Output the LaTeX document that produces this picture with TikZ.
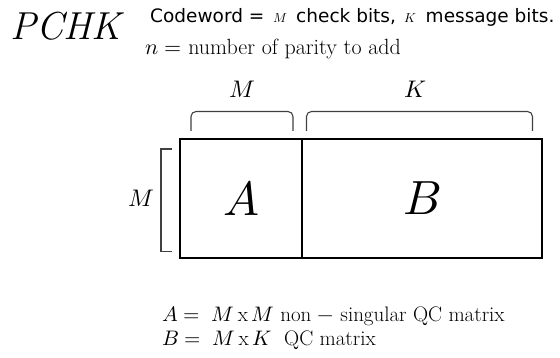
\documentclass[tikz,border=0pt]{standalone}
\usepackage{fontspec}
\usepackage{unicode-math}
\setmathfont{Latin Modern Math}
\newfontfamily\sansf{DejaVu Sans}
\begin{document}
\begin{tikzpicture}[x=1pt,y=-1pt,
  cell/.style={draw=black,line width=1.8pt,inner sep=0pt,outer sep=0pt,minimum height=119pt,font=\fontsize{48}{48}\selectfont},
  brace/.style={draw=black!75,line width=1.1pt,rounded corners=5pt},
  dimlab/.style={font=\fontsize{24}{24}\selectfont,inner sep=0pt},
  lbl/.style={anchor=base west,inner sep=0pt}]
\useasboundingbox (0,0) rectangle (560,358);
\node[lbl,font=\fontsize{39}{40}\selectfont] (title) at (10,40) {\itshape PCHK};
\node[lbl,font=\sansf\fontsize{18.5}{19}\selectfont] (code) at (150,23) {Codeword = \,$\scriptstyle M$\, check bits, \,$\scriptstyle K$\, message bits.};
\node[lbl,font=\fontsize{22}{24}\selectfont] (nline) at (145,55) {$n = $ number of parity to add};
\node[cell,minimum width=122pt] (A) at (241,198.5) {$A$};
\node[cell,minimum width=240pt,anchor=west] (B) at (A.east) {$B$};
\node[dimlab] (mtop) at (242,89) {$M$};
\node[dimlab] (ktop) at (416,89) {$K$};
\node[dimlab] (mleft) at (141,198) {$M$};
\coordinate (b1s) at (191,131); \coordinate (b1e) at (293,131);
\coordinate (b2s) at (306.5,131); \coordinate (b2e) at (532.5,131);
\draw[brace] (b1s) -- ++(0,-19.5) -| (b1e);
\draw[brace] (b2s) -- ++(0,-19.5) -| (b2e);
\coordinate (l1) at (171.5,149); \coordinate (l2) at (171.5,251.5);
\draw[draw=black!75,line width=1.1pt] (l1) -- ++(-10.5,0) |- (l2);
\node[lbl,font=\fontsize{21}{22}\selectfont] (defA) at (162,321) {$A =\;M\,\mathrm{x}\,M$ non $-$ singular QC matrix};
\node[lbl,font=\fontsize{21}{22}\selectfont] (defB) at (162,345) {$B =\;M\,\mathrm{x}\,K$\ \ QC matrix};
\end{tikzpicture}
\end{document}
